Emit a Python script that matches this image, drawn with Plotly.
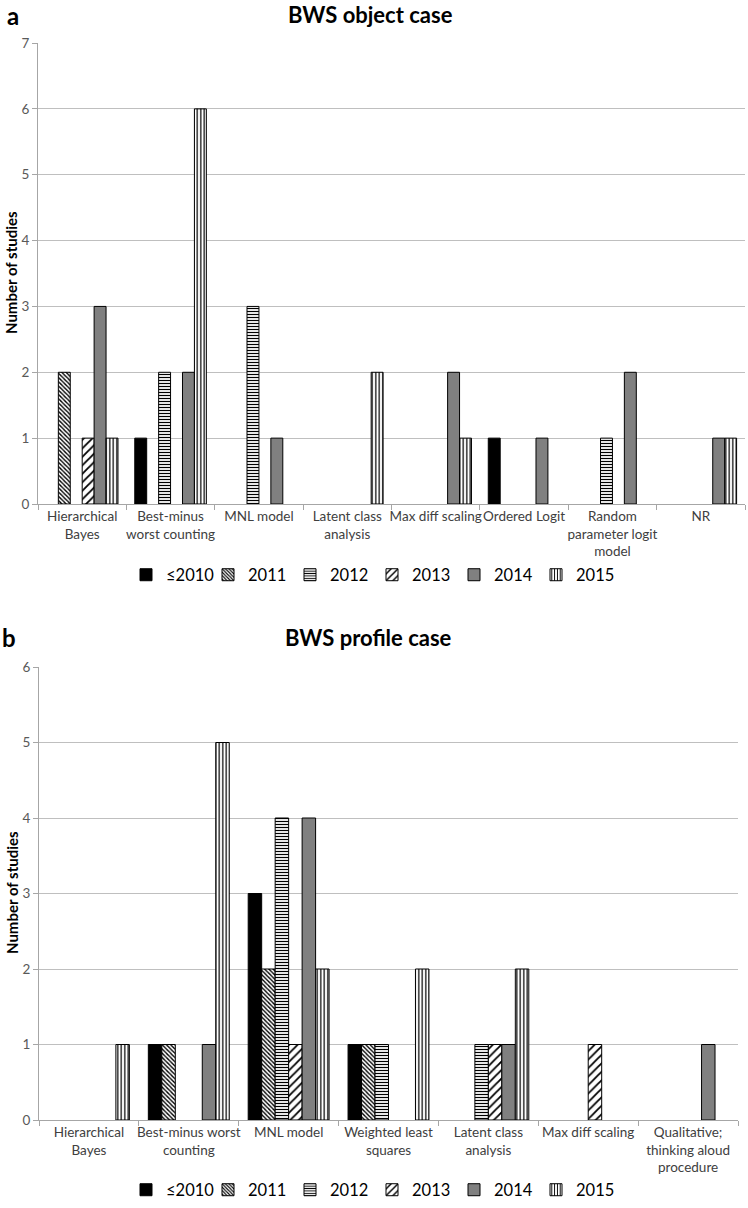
import plotly.graph_objects as go

W, H = 748, 1208

years = ["≤2010", "2011", "2012", "2013", "2014", "2015"]

# Panel a: BWS object case
obj_categories = ["Hierarchical Bayes", "Best-minus worst counting", "MNL model",
                  "Latent class analysis", "Max diff scaling", "Ordered Logit",
                  "Random parameter logit model", "NR"]
obj_ticktext = ["Hierarchical<br>Bayes", "Best-minus<br>worst counting", "MNL model",
                "Latent class<br>analysis", "Max diff scaling", "Ordered Logit",
                "Random<br>parameter logit<br>model", "NR"]
obj_le2010 = [0, 1, 0, 0, 0, 1, 0, 0]
obj_2011 = [2, 0, 0, 0, 0, 0, 0, 0]
obj_2012 = [0, 2, 3, 0, 0, 0, 1, 0]
obj_2013 = [1, 0, 0, 0, 0, 0, 0, 0]
obj_2014 = [3, 2, 1, 0, 2, 1, 2, 1]
obj_2015 = [1, 6, 0, 2, 1, 0, 0, 1]

# Panel b: BWS profile case
pro_categories = ["Hierarchical Bayes", "Best-minus worst counting", "MNL model",
                  "Weighted least squares", "Latent class analysis", "Max diff scaling",
                  "Qualitative; thinking aloud procedure"]
pro_ticktext = ["Hierarchical<br>Bayes", "Best-minus worst<br>counting", "MNL model",
                "Weighted least<br>squares", "Latent class<br>analysis", "Max diff scaling",
                "Qualitative;<br>thinking aloud<br>procedure"]
pro_le2010 = [0, 1, 3, 1, 0, 0, 0]
pro_2011 = [0, 1, 2, 1, 0, 0, 0]
pro_2012 = [0, 0, 4, 1, 1, 0, 0]
pro_2013 = [0, 0, 1, 0, 1, 1, 0]
pro_2014 = [0, 1, 4, 0, 1, 0, 1]
pro_2015 = [1, 5, 2, 2, 2, 0, 0]

obj_series = [obj_le2010, obj_2011, obj_2012, obj_2013, obj_2014, obj_2015]
pro_series = [pro_le2010, pro_2011, pro_2012, pro_2013, pro_2014, pro_2015]

styles = [
    dict(color="#000000", pattern=dict(shape="")),
    dict(color="#ffffff", pattern=dict(shape="\\", fgcolor="#000000", bgcolor="#ffffff",
                                       size=3, solidity=0.45, fillmode="replace")),
    dict(color="#ffffff", pattern=dict(shape="-", fgcolor="#000000", bgcolor="#ffffff",
                                       size=3, solidity=0.4, fillmode="replace")),
    dict(color="#ffffff", pattern=dict(shape="/", fgcolor="#000000", bgcolor="#ffffff",
                                       size=6, solidity=0.3, fillmode="replace")),
    dict(color="#808080", pattern=dict(shape="")),
    dict(color="#ffffff", pattern=dict(shape="|", fgcolor="#000000", bgcolor="#ffffff",
                                       size=3.5, solidity=0.35, fillmode="replace")),
]

FONT = "Lato, 'Open Sans', sans-serif"


def nz(vals):
    # zero counts are not drawn as bars
    return [v if v else None for v in vals]


fig = go.Figure()
for name, vals, st in zip(years, obj_series, styles):
    fig.add_trace(go.Bar(
        x=obj_categories, y=nz(vals), name=name, xaxis="x", yaxis="y",
        marker=dict(color=st["color"], pattern=st["pattern"],
                    line=dict(color="#000000", width=1)),
        legend="legend", showlegend=True))
for name, vals, st in zip(years, pro_series, styles):
    fig.add_trace(go.Bar(
        x=pro_categories, y=nz(vals), name=name, xaxis="x2", yaxis="y2",
        marker=dict(color=st["color"], pattern=st["pattern"],
                    line=dict(color="#000000", width=1)),
        legend="legend2", showlegend=True))


def px_x(p):
    return p / W


def px_y(p):
    return 1 - p / H


axis_common = dict(showline=True, linecolor="#a6a6a6", linewidth=1, automargin=False)


def ann(text, x, y, size, angle=0):
    return dict(text=text, x=px_x(x), y=px_y(y), xref="paper", yref="paper",
                xanchor="center", yanchor="middle", showarrow=False, textangle=angle,
                font=dict(size=size, color="#000000", family=FONT))


legend_common = dict(orientation="h", xanchor="center", yanchor="middle",
                     font=dict(size=16.5, color="#000000"), traceorder="normal",
                     itemwidth=30, entrywidth=37, entrywidthmode="pixels",
                     bgcolor="rgba(0,0,0,0)")

fig.update_layout(
    width=W, height=H,
    margin=dict(l=0, r=0, t=0, b=0, autoexpand=False),
    paper_bgcolor="white", plot_bgcolor="white",
    barmode="group", bargap=0.19, bargroupgap=0,
    font=dict(family=FONT, color="#404040", size=13),
    xaxis=dict(domain=[px_x(38), px_x(745)], anchor="y", type="category",
               categoryorder="array", categoryarray=obj_categories,
               tickvals=obj_categories, ticktext=obj_ticktext, tickangle=0,
               ticks="outside", tickson="boundaries", ticklen=5, tickcolor="#a6a6a6",
               tickfont=dict(size=13.5, color="#404040"), showgrid=False,
               **axis_common),
    yaxis=dict(domain=[px_y(504), px_y(43)], anchor="x", range=[0, 7], dtick=1,
               ticks="outside", ticklen=5, tickcolor="#a6a6a6",
               showgrid=True, gridcolor="#bfbfbf", gridwidth=1, zeroline=False,
               tickfont=dict(size=13.5, color="#595959"), **axis_common),
    xaxis2=dict(domain=[px_x(39), px_x(738)], anchor="y2", type="category",
                categoryorder="array", categoryarray=pro_categories,
                tickvals=pro_categories, ticktext=pro_ticktext, tickangle=0,
                ticks="outside", tickson="boundaries", ticklen=5, tickcolor="#a6a6a6",
                tickfont=dict(size=13.5, color="#404040"), showgrid=False,
                **axis_common),
    yaxis2=dict(domain=[px_y(1120), px_y(667)], anchor="x2", range=[0, 6], dtick=1,
                ticks="outside", ticklen=5, tickcolor="#a6a6a6",
                showgrid=True, gridcolor="#bfbfbf", gridwidth=1, zeroline=False,
                tickfont=dict(size=13.5, color="#595959"), **axis_common),
    legend=dict(x=px_x(372), y=px_y(575), **legend_common),
    legend2=dict(x=px_x(372), y=px_y(1190), **legend_common),
    annotations=[
        ann("<b>a</b>", 13, 16, 24),
        ann("<b>BWS object case</b>", 370, 15, 22),
        ann("<b>Number of studies</b>", 11, 273, 15, -90),
        ann("<b>b</b>", 9, 637, 24),
        ann("<b>BWS profile case</b>", 368, 637, 22),
        ann("<b>Number of studies</b>", 12, 893, 15, -90),
    ],
)

fig.write_html("out.html", config={"displayModeBar": False},
               post_script="document.body.style.margin='0';")
